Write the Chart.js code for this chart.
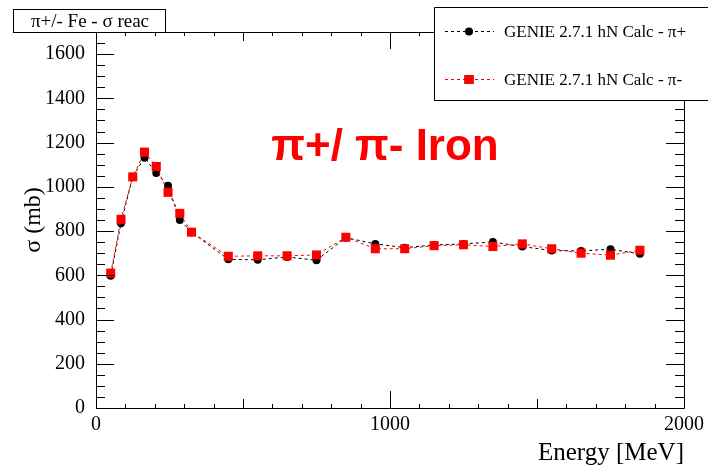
<!DOCTYPE html>
<html>
<head>
<meta charset="utf-8">
<script src="https://cdn.jsdelivr.net/npm/chart.js@4/dist/chart.umd.min.js"></script>
<style>
  html, body { margin: 0; padding: 0; background: #fff; }
</style>
</head>
<body>
<canvas id="xsChart" width="708" height="466"></canvas>
<script>
// values (MeV, mb)
const energies = [50, 85, 125, 165, 205, 245, 285, 325, 450, 550, 650, 750, 850,
                  950, 1050, 1150, 1250, 1350, 1450, 1550, 1650, 1750, 1850];
const xsPiPlus = [598, 835, 1045, 1132, 1062, 1005, 850, 795, 672, 670, 683, 668, 770,
                  742, 725, 737, 742, 750, 730, 712, 710, 718, 697];
const xsPiMinus = [610, 853, 1045, 1157, 1092, 975, 880, 795, 686, 688, 688, 692, 772,
                   720, 720, 734, 738, 730, 742, 720, 700, 691, 713];
const xTickValues = [0, 1000, 2000];
const yTickValues = [0, 200, 400, 600, 800, 1000, 1200, 1400, 1600];
const seriesLabels = ['GENIE 2.7.1 hN Calc - \u03c0+', 'GENIE 2.7.1 hN Calc - \u03c0-'];
const frameTitle = '\u03c0+/- Fe - \u03c3 reac';
const bigLabel = '\u03c0+/ \u03c0- Iron';

const SERIF = "'Liberation Serif', 'Times New Roman', serif";

function toPoints(xs, ys) {
    return xs.map((x, i) => ({ x: x, y: ys[i] }));
}

// ROOT style frame with ticks pointing inward on all four sides
const frameTicks = {
    id: 'frameTicks',
    afterDatasetsDraw(chart) {
        const ctx = chart.ctx;
        const a = chart.chartArea;
        const xs = chart.scales.x, ys = chart.scales.y;
        ctx.save();
        ctx.strokeStyle = '#000';
        ctx.lineWidth = 1;
        ctx.beginPath();
        ctx.rect(Math.round(a.left) + 0.5, Math.round(a.top) + 0.5,
                 Math.round(a.right - a.left), Math.round(a.bottom - a.top));
        // x ticks
        for (let v = xs.min; v <= xs.max; v += 100) {
            const px = Math.round(xs.getPixelForValue(v)) + 0.5;
            let len = 4;
            if (v % 1000 === 0) len = 17;
            else if (v % 500 === 0) len = 9;
            ctx.moveTo(px, a.bottom); ctx.lineTo(px, a.bottom - len);
            ctx.moveTo(px, a.top); ctx.lineTo(px, a.top + len);
        }
        // y ticks
        for (let v = 0; v <= ys.max; v += 50) {
            const py = Math.round(ys.getPixelForValue(v)) + 0.5;
            const len = (v % 200 === 0) ? 18 : 9;
            ctx.moveTo(a.left, py); ctx.lineTo(a.left + len, py);
            ctx.moveTo(a.right, py); ctx.lineTo(a.right - len, py);
        }
        ctx.stroke();
        ctx.restore();
    },
    afterDraw(chart) {
        const ctx = chart.ctx;
        const ds = chart.data.datasets;
        ctx.save();

        // title box
        ctx.fillStyle = '#fff';
        ctx.fillRect(13, 9, 153, 24);
        ctx.strokeStyle = '#000';
        ctx.lineWidth = 1;
        ctx.strokeRect(13.5, 9.5, 152, 23);
        ctx.fillStyle = '#000';
        ctx.font = '19px ' + SERIF;
        ctx.textAlign = 'center';
        ctx.textBaseline = 'middle';
        ctx.fillText(frameTitle, 90, 22);

        // legend box
        ctx.fillStyle = '#fff';
        ctx.fillRect(434, 7, 280, 94);
        ctx.beginPath();
        ctx.moveTo(434.5, 101); ctx.lineTo(434.5, 7.5); ctx.lineTo(708, 7.5);
        ctx.moveTo(434.5, 100.5); ctx.lineTo(708, 100.5);
        ctx.stroke();
        const rows = [31, 79];
        ds.forEach((d, i) => {
            const y = rows[i] + 0.5;
            ctx.save();
            ctx.strokeStyle = d.borderColor;
            ctx.lineWidth = 1;
            ctx.setLineDash([3, 3]);
            ctx.beginPath();
            ctx.moveTo(445, y); ctx.lineTo(494, y);
            ctx.stroke();
            ctx.restore();
            Chart.helpers.drawPoint(ctx, {
                pointStyle: d.pointStyle, radius: d.pointRadius, rotation: 0, borderWidth: 0
            }, 469, y);
            ctx.fillStyle = d.backgroundColor;
            ctx.fill();
            ctx.fillStyle = '#000';
            ctx.font = '17px ' + SERIF;
            ctx.textAlign = 'left';
            ctx.textBaseline = 'middle';
            ctx.fillText(d.label, 504, y + 1);
        });

        // big annotation
        ctx.fillStyle = '#ff0000';
        ctx.font = "bold 44px 'Liberation Sans', Arial, sans-serif";
        ctx.textAlign = 'center';
        ctx.textBaseline = 'alphabetic';
        ctx.fillText(bigLabel, 385, 160);
        ctx.restore();
    }
};

const ctx = document.getElementById('xsChart').getContext('2d');
const xsChart = new Chart(ctx, {
    type: 'line',
    data: {
        datasets: [{
            label: seriesLabels[0],
            data: toPoints(energies, xsPiPlus),
            borderColor: '#000000',
            backgroundColor: '#000000',
            borderWidth: 1,
            borderDash: [3, 3],
            pointStyle: 'circle',
            pointRadius: 4,
            pointBorderWidth: 0,
            order: 1
        }, {
            label: seriesLabels[1],
            data: toPoints(energies, xsPiMinus),
            borderColor: '#ff0000',
            backgroundColor: '#ff0000',
            borderWidth: 1,
            borderDash: [3, 3],
            pointStyle: 'rect',
            pointRadius: 6.4,
            pointBorderWidth: 0,
            order: 0
        }]
    },
    options: {
        responsive: false,
        animation: false,
        devicePixelRatio: 1,
        layout: { padding: { top: 32, right: 24, left: 0, bottom: 0 } },
        plugins: { legend: { display: false }, tooltip: { enabled: false } },
        scales: {
            x: {
                type: 'linear',
                min: 0,
                max: 2000,
                grid: { display: false },
                border: { display: false },
                afterBuildTicks: (s) => { s.ticks = xTickValues.map(v => ({ value: v })); },
                afterFit: (s) => { s.height = 58; },
                ticks: {
                    color: '#000', font: { family: SERIF, size: 20 }, padding: -3, maxRotation: 0,
                    callback: (v) => String(v)
                },
                title: {
                    display: true,
                    text: 'Energy [MeV]',
                    align: 'end',
                    color: '#000',
                    font: { family: SERIF, size: 25 },
                    padding: { top: 0, bottom: -2 }
                }
            },
            y: {
                min: 0,
                max: 1700,
                grid: { display: false },
                border: { display: false },
                afterBuildTicks: (s) => { s.ticks = yTickValues.map(v => ({ value: v })); },
                afterFit: (s) => { s.width = 96; },
                ticks: {
                    color: '#000', font: { family: SERIF, size: 20 }, padding: 3,
                    callback: (v) => String(v)
                },
                title: {
                    display: true,
                    text: '\u03c3 (mb)',
                    color: '#000',
                    font: { family: SERIF, size: 24 },
                    padding: { top: 19, bottom: 0 }
                }
            }
        }
    },
    plugins: [frameTicks]
});
</script>
</body>
</html>
